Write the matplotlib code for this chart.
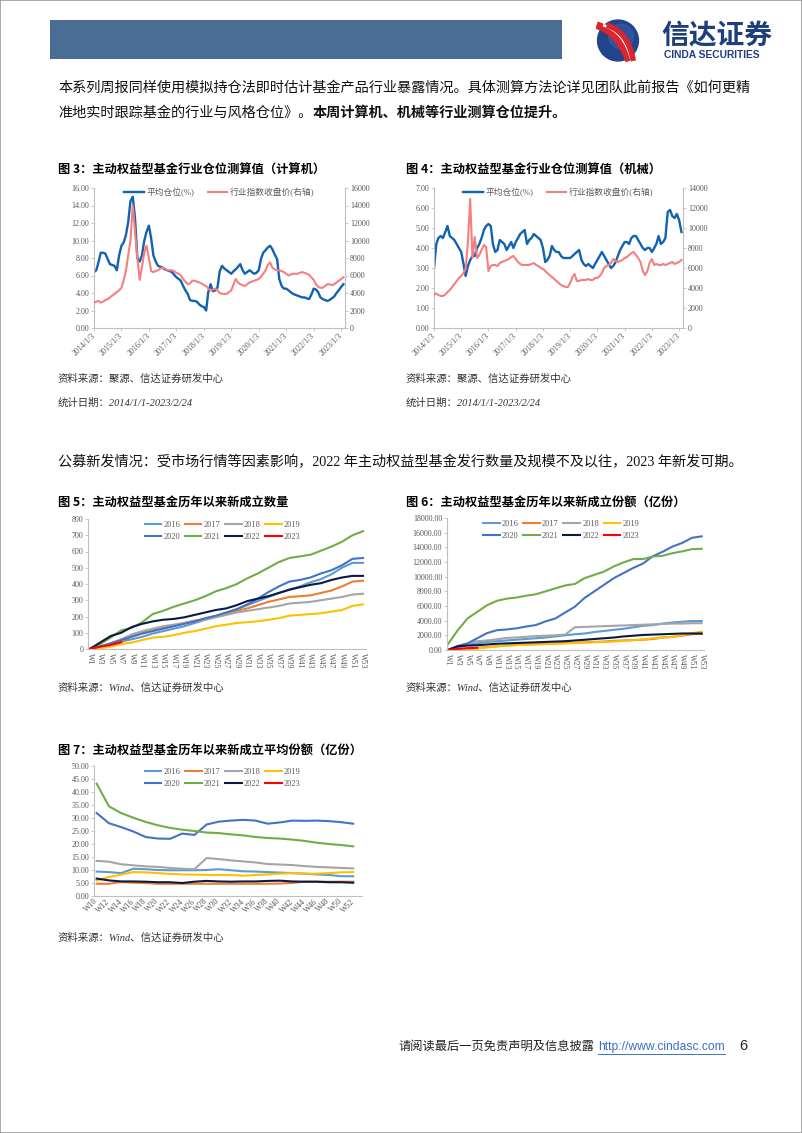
import numpy as np
import pandas as pd
import matplotlib
matplotlib.use("Agg")
import matplotlib.pyplot as plt
from matplotlib.patches import Circle, Rectangle, PathPatch
from matplotlib.path import Path
from matplotlib.ticker import MultipleLocator, FormatStrFormatter

plt.rcParams['font.family'] = ['Liberation Serif', 'Noto Sans CJK SC', 'DejaVu Sans']
plt.rcParams['axes.unicode_minus'] = False

W, H = 802, 1133
CJK = ['Noto Sans CJK SC', 'DejaVu Sans']
SERIF_CJK = ['Liberation Serif', 'Noto Sans CJK SC']

# ---------------- data: monthly, 2014/1 .. 2023/2 ----------------
months = pd.date_range("2014-01-01", periods=110, freq="MS") + pd.Timedelta(days=2)
year_ticks = [pd.Timestamp(f"{y}-01-03") for y in range(2014, 2024)]
year_labels = [f"{y}/1/3" for y in range(2014, 2024)]

# fig 3: computer
pos_jsj = [
    6.4, 6.6, 7.5, 8.6, 8.6, 8.5, 7.9, 7.3, 7.2, 7.1, 6.6, 8.3,
    9.4, 9.8, 10.6, 12.1, 14.5, 15.0, 12.5, 8.0, 7.6, 8.3, 10.0, 11.0,
    11.7, 10.2, 8.3, 7.6, 7.1, 7.0, 6.9, 6.7, 6.6, 6.5, 6.4, 6.1,
    5.8, 5.6, 5.4, 4.8, 4.3, 3.9, 3.2, 3.1, 3.1, 3.0, 2.7, 2.5,
    2.4, 2.0, 4.1, 5.0, 4.2, 4.3, 4.6, 6.5, 7.1, 6.8, 6.6, 6.4,
    6.2, 6.5, 6.7, 7.0, 7.3, 6.6, 6.2, 6.4, 6.6, 6.4, 6.2, 6.3,
    6.6, 7.9, 8.6, 8.9, 9.2, 9.4, 9.0, 8.4, 7.9, 5.6, 4.8, 4.5,
    4.5, 4.3, 4.1, 3.9, 3.8, 3.7, 3.6, 3.5, 3.5, 3.4, 3.3, 3.8,
    4.5, 4.4, 4.1, 3.5, 3.3, 3.2, 3.1, 3.2, 3.4, 3.6, 4.0, 4.3,
    4.7, 5.0]
idx_jsj = [
    2900, 3000, 3100, 2900, 3000, 3200, 3300, 3500, 3700, 3900, 4100, 4300,
    4600, 5500, 6500, 8300, 10000, 14000, 11000, 8000, 5500, 7000, 8600, 9400,
    8000, 6500, 6400, 6500, 6600, 6800, 6900, 6800, 6600, 6600, 6600, 6500,
    6300, 6200, 6000, 5600, 5300, 5000, 5100, 5400, 5400, 5300, 5200, 5100,
    4900, 4800, 4500, 4300, 4400, 4500, 4300, 4000, 3900, 3900, 3900, 4100,
    4300, 5000, 5600, 5200, 5000, 4900, 4800, 5000, 5200, 5300, 5400, 5500,
    5600, 5900, 6200, 6600, 7200, 7500, 6900, 6700, 6600, 6600, 6500, 6400,
    6200, 6000, 6100, 6200, 6200, 6200, 6300, 6400, 6300, 6200, 6100, 5800,
    5500, 5000, 4700, 4600, 4600, 4800, 5000, 5000, 4900, 5000, 5200, 5400,
    5600, 5800]

# fig 4: machinery
pos_jx = [
    3.0, 4.2, 4.5, 4.6, 4.5, 4.8, 5.1, 4.6, 4.5, 4.4, 4.2, 4.0,
    3.8, 3.2, 2.6, 3.1, 3.4, 3.6, 3.6, 4.0, 4.2, 4.5, 4.9, 5.1,
    5.2, 5.1, 4.2, 3.8, 3.9, 4.4, 4.3, 4.2, 3.9, 4.1, 4.3, 4.0,
    4.3, 4.5, 4.7, 4.8, 4.9, 4.2, 4.4, 4.5, 4.7, 4.6, 4.5, 4.4,
    4.0, 3.3, 3.4, 3.6, 4.1, 3.9, 3.8, 3.8, 3.6, 3.5, 3.5, 3.5,
    3.5, 3.6, 3.7, 3.8, 3.9, 3.4, 3.2, 3.1, 3.2, 3.1, 3.0, 3.2,
    3.4, 3.6, 3.8, 3.6, 3.4, 3.2, 3.0, 3.1, 3.3, 3.6, 3.9, 4.1,
    4.3, 4.3, 4.2, 4.5, 4.6, 4.6, 4.4, 4.2, 4.0, 3.9, 4.0, 4.0,
    3.8, 4.0, 4.2, 4.6, 4.2, 4.3, 4.5, 5.8, 5.9, 5.6, 5.5, 5.7,
    5.4, 4.8]
idx_jx = [
    3300, 3450, 3300, 3200, 3200, 3350, 3600, 3800, 4100, 4400, 4700, 5000,
    5200, 5500, 5900, 8600, 12900, 7000, 9100, 7000, 7300, 7800, 8300, 8100,
    5700, 6200, 6300, 6300, 6200, 6500, 6600, 6700, 6800, 6900, 7100, 7200,
    6900, 6600, 6400, 6300, 6300, 6300, 6300, 6400, 6500, 6300, 6200, 6000,
    5900, 5700, 5500, 5300, 5100, 4900, 4700, 4500, 4300, 4200, 4100, 4100,
    4500, 5100, 5400, 4700, 4700, 4800, 4800, 4800, 4900, 4800, 4800, 5000,
    5000, 5200, 5500, 6000, 6200, 6300, 6500, 6900, 6700, 6600, 6700, 6800,
    7000, 7100, 7300, 7500, 7600, 7300, 7000, 6600, 5700, 5300, 5700, 6500,
    6900, 6300, 6400, 6300, 6300, 6400, 6300, 6400, 6500, 6600, 6400, 6500,
    6600, 6800]

# ---------------- data: weekly cumulative (odd weeks W1..W53) ----------------
years = ['2016', '2017', '2018', '2019', '2020', '2021', '2022', '2023']
year_colors = ['#5B9BD5', '#ED7D31', '#A5A5A5', '#FFC000',
               '#4472C4', '#70AD47', '#0B1A45', '#FF0000']
odd_weeks = list(range(1, 54, 2))

count_by_year = {
    '2016': [0, 10, 25, 45, 60, 75, 95, 110, 125, 140, 160, 180, 200, 220,
             245, 270, 295, 320, 345, 365, 385, 410, 430, 460, 500, 530, 530],
    '2017': [0, 15, 30, 45, 80, 100, 115, 130, 145, 160, 175, 185, 200, 215,
             235, 250, 270, 290, 305, 320, 325, 330, 345, 360, 385, 415, 420],
    '2018': [0, 15, 35, 60, 90, 110, 125, 140, 150, 160, 170, 180, 195, 210,
             225, 235, 245, 255, 265, 280, 285, 290, 300, 310, 320, 335, 340],
    '2019': [0, 5, 15, 30, 40, 55, 70, 75, 85, 100, 110, 125, 140, 150,
             160, 165, 170, 180, 190, 205, 210, 215, 220, 230, 240, 265, 275],
    '2020': [0, 15, 35, 55, 75, 95, 110, 125, 140, 155, 170, 190, 205, 225,
             245, 275, 310, 350, 385, 415, 425, 440, 465, 485, 515, 555, 560],
    '2021': [0, 30, 70, 115, 130, 165, 215, 235, 260, 280, 300, 325, 355, 375,
             400, 435, 465, 500, 535, 560, 570, 580, 605, 630, 660, 700, 725],
    '2022': [0, 40, 80, 100, 135, 155, 170, 180, 185, 195, 210, 225, 240, 250,
             270, 295, 310, 325, 345, 365, 380, 395, 405, 425, 440, 450, 450],
    '2023': [0, 15, 25, 42],
}

share_by_year = {
    '2016': [0, 350, 700, 900, 1100, 1200, 1300, 1400, 1500, 1600, 1700, 1850, 2000, 2150,
             2250, 2450, 2600, 2750, 2900, 3100, 3300, 3400, 3600, 3750, 3850, 3950, 3950],
    '2017': [0, 100, 200, 300, 400, 500, 600, 700, 750, 800, 850, 900, 950, 1000,
             1050, 1100, 1150, 1250, 1300, 1350, 1400, 1500, 1700, 1800, 1950, 2150, 2200],
    '2018': [0, 500, 900, 1200, 1300, 1450, 1650, 1700, 1800, 1900, 1950, 2000, 2100, 3100,
             3150, 3200, 3250, 3300, 3350, 3400, 3450, 3500, 3550, 3600, 3600, 3650, 3650],
    '2019': [0, 50, 100, 200, 350, 500, 600, 650, 700, 750, 800, 850, 900, 950,
             1000, 1050, 1100, 1150, 1250, 1350, 1450, 1600, 1700, 1800, 2000, 2300, 2500],
    '2020': [0, 550, 900, 1600, 2300, 2700, 2800, 2950, 3200, 3400, 3900, 4300, 5100, 5900,
             7100, 8000, 8900, 9800, 10500, 11200, 11800, 12800, 13400, 14100, 14600, 15300, 15500],
    '2021': [800, 2700, 4300, 5200, 6100, 6700, 7000, 7150, 7400, 7600, 8000, 8400, 8800, 9000,
             9800, 10250, 10700, 11400, 11950, 12400, 12400, 12750, 12850, 13200, 13450, 13750, 13800],
    '2022': [0, 500, 600, 650, 750, 850, 900, 950, 1000, 1050, 1100, 1150, 1200, 1300,
             1400, 1500, 1600, 1700, 1850, 1950, 2050, 2100, 2150, 2200, 2250, 2250, 2250],
    '2023': [0, 150, 250, 300],
}

# fig 7: average share, even weeks W10..W52
even_weeks = list(range(10, 53, 2))
avg_by_year = {
    '2016': [9.4, 9.2, 8.8, 10.5, 10.3, 10.0, 9.9, 9.9, 9.9, 10.0, 10.3,
             9.9, 9.5, 9.4, 9.2, 9.0, 8.8, 8.6, 8.3, 8.1, 7.6, 7.6],
    '2017': [4.7, 4.7, 5.4, 5.1, 5.0, 4.7, 4.7, 4.7, 4.7, 4.7, 4.7,
             4.7, 4.7, 4.7, 4.7, 4.8, 5.0, 5.5, 5.5, 5.5, 5.5, 5.5],
    '2018': [13.5, 13.2, 12.2, 11.8, 11.4, 11.2, 10.8, 10.5, 10.3, 14.6, 14.2,
             13.7, 13.3, 12.9, 12.3, 12.1, 11.9, 11.5, 11.2, 11.0, 10.8, 10.6],
    '2019': [6.0, 7.3, 8.2, 9.2, 9.1, 8.8, 8.5, 8.3, 8.2, 8.1, 8.1,
             8.1, 7.8, 8.1, 8.3, 8.6, 8.8, 8.6, 8.6, 8.8, 9.1, 9.2],
    '2020': [31.9, 28.0, 26.5, 24.8, 22.7, 22.1, 22.0, 24.0, 23.5, 27.5, 28.6,
             29.0, 29.3, 29.0, 27.8, 28.3, 29.0, 28.9, 29.0, 28.8, 28.4, 27.8],
    '2021': [43.2, 34.5, 31.9, 30.1, 28.5, 27.2, 26.2, 25.5, 25.0, 24.4, 24.2,
             23.7, 23.3, 22.7, 22.3, 22.1, 21.7, 21.2, 20.5, 20.0, 19.6, 19.1],
    '2022': [6.7, 6.0, 5.6, 5.6, 5.5, 5.3, 5.3, 5.0, 5.5, 5.8, 5.6,
             5.5, 5.6, 5.6, 5.8, 5.9, 5.6, 5.5, 5.5, 5.3, 5.3, 5.1],
    '2023': [],
}

BLUE = '#1262B2'
PINK = '#F47F7F'
GRAY = '#595959'
SPINE = '#BFBFBF'

fig = plt.figure(figsize=(W / 100, H / 100), dpi=100)


def add_ax(l, t, r, b):
    return fig.add_axes([l / W, 1 - b / H, (r - l) / W, (b - t) / H])


def put(x, y, s, **kw):
    kw.setdefault('va', 'center')
    return fig.text(x / W, 1 - y / H, s, **kw)


def style(ax, sides=('left', 'bottom')):
    for k, sp in ax.spines.items():
        sp.set_visible(k in sides)
        sp.set_color(SPINE)
        sp.set_linewidth(0.8)
    ax.tick_params(labelsize=5.8, colors=GRAY, length=2, width=0.6, pad=1.5)
    ax.tick_params(color=SPINE)
    ax.patch.set_alpha(0)


# ---------------- page decoration ----------------
fig.add_artist(Rectangle((0, 0), 1, 1, transform=fig.transFigure, fill=False,
                         edgecolor='#9A9A9A', lw=1.2))
fig.add_artist(Rectangle((50 / W, 1 - 59 / H), 512 / W, 39 / H, transform=fig.transFigure,
                         facecolor='#4A6D95', edgecolor='none'))

lg = add_ax(595, 18, 641, 63)
lg.set_xlim(-1.1, 1.1)
lg.set_ylim(-1.1, 1.1)
lg.set_aspect('equal')
lg.axis('off')
lg.add_patch(Circle((0, 0), 1.0, color='#23448A'))
lg.add_patch(Circle((0.15, 0.2), 0.6, color='#3A62AE', alpha=0.5))
for off, col, w in [(0.0, '#D7262E', 5.5), (0.32, '#FFFFFF', 2.0), (0.5, '#D7262E', 4.0)]:
    verts = [(-1.05 + off, 0.75), (0.0 + off, 0.45), (0.55 + off * 0.4, -1.0)]
    lg.add_patch(PathPatch(Path(verts, [Path.MOVETO, Path.CURVE3, Path.CURVE3]),
                           fill=False, edgecolor=col, lw=w, capstyle='butt'))
put(661, 36, '信达证券', fontsize=20, weight='bold', color='#1F3E7C', family=CJK)
put(664, 55, 'CINDA SECURITIES', fontsize=7.4, weight='bold', color='#1F3E7C',
    family=['Liberation Sans'])

# ---------------- body text ----------------
BODY = 10.2
put(58, 88, '本系列周报同样使用模拟持仓法即时估计基金产品行业暴露情况。具体测算方法论详见团队此前报告《如何更精',
    fontsize=BODY, family=SERIF_CJK, color='#111111')
renderer = fig.canvas.get_renderer()
t = put(58, 113, '准地实时跟踪基金的行业与风格仓位》。', fontsize=BODY, family=SERIF_CJK, color='#111111')
bb = t.get_window_extent(renderer=renderer)
put(bb.x1, 113, '本周计算机、机械等行业测算仓位提升。', fontsize=BODY, weight='bold',
    family=CJK, color='#111111')
put(58, 462, '公募新发情况：受市场行情等因素影响，2022 年主动权益型基金发行数量及规模不及以往，2023 年新发可期。',
    fontsize=BODY, family=SERIF_CJK, color='#111111')

TITLE = 8.8
put(58, 170, '图 3：主动权益型基金行业仓位测算值（计算机）', fontsize=TITLE, weight='bold', family=CJK)
put(406, 170, '图 4：主动权益型基金行业仓位测算值（机械）', fontsize=TITLE, weight='bold', family=CJK)
put(58, 502, '图 5：主动权益型基金历年以来新成立数量', fontsize=TITLE, weight='bold', family=CJK)
put(406, 502, '图 6：主动权益型基金历年以来新成立份额（亿份）', fontsize=TITLE, weight='bold', family=CJK)
put(58, 750, '图 7：主动权益型基金历年以来新成立平均份额（亿份）', fontsize=TITLE, weight='bold', family=CJK)

SRC = dict(fontsize=7.5, style='italic', family=SERIF_CJK, color='#333333')
put(58, 379, '资料来源：聚源、信达证券研发中心', **SRC)
put(58, 403, '统计日期：2014/1/1-2023/2/24', **SRC)
put(406, 379, '资料来源：聚源、信达证券研发中心', **SRC)
put(406, 403, '统计日期：2014/1/1-2023/2/24', **SRC)
put(58, 688, '资料来源：Wind、信达证券研发中心', **SRC)
put(406, 688, '资料来源：Wind、信达证券研发中心', **SRC)
put(58, 938, '资料来源：Wind、信达证券研发中心', **SRC)

# footer
put(398, 1047, '请阅读最后一页免责声明及信息披露', fontsize=8.8, family=SERIF_CJK, color='#222222')
u = put(598, 1047, 'http://www.cindasc.com', fontsize=8.7, family=['Liberation Sans'], color='#3A6FC8')
ub = u.get_window_extent(renderer=renderer)
fig.add_artist(plt.Line2D([ub.x0 / W, ub.x1 / W], [(ub.y0 - 0.5) / H] * 2,
                          transform=fig.transFigure, color='#3A6FC8', lw=0.7))
put(739, 1046, '6', fontsize=10.5, family=['Liberation Sans'], color='#222222')


# ---------------- fig 3 / fig 4 ----------------
def position_chart(box, pos, idx, ymax, step, rmax, rstep):
    ax = add_ax(*box)
    axr = ax.twinx()
    l1, = ax.plot(months, pos, color=BLUE, lw=1.7)
    l2, = axr.plot(months, idx, color=PINK, lw=1.5)
    ax.set_ylim(0, ymax)
    ax.yaxis.set_major_locator(MultipleLocator(step))
    ax.yaxis.set_major_formatter(FormatStrFormatter('%.2f'))
    axr.set_ylim(0, rmax)
    axr.yaxis.set_major_locator(MultipleLocator(rstep))
    axr.yaxis.set_major_formatter(FormatStrFormatter('%d'))
    ax.set_xlim(pd.Timestamp('2014-01-03'), pd.Timestamp('2023-02-24'))
    ax.set_xticks(year_ticks)
    ax.set_xticklabels(year_labels, rotation=45, ha='right', va='center', rotation_mode='anchor')
    style(ax, ('left', 'bottom'))
    style(axr, ('right',))
    ax.tick_params(axis='x', pad=3)
    axr.legend([l1, l2], ['平均仓位(%)', '行业指数收盘价(右轴)'], loc='upper center',
               bbox_to_anchor=(0.5, 1.06), ncol=2, frameon=False, fontsize=6.3,
               handlelength=2.2, handletextpad=0.3, columnspacing=1.6, labelcolor=GRAY)
    return ax


position_chart((94, 188, 345, 328), pos_jsj, idx_jsj, 16, 2, 16000, 2000)
position_chart((434, 188, 683, 328), pos_jx, idx_jx, 7, 1, 14000, 2000)


# ---------------- fig 5 / 6 / 7 ----------------
def weekly_chart(box, data, weeks, xlim, ymax, step, fmt, legend_x, ticks, rot):
    ax = add_ax(*box)
    handles = {}
    for yr, col in zip(years, year_colors):
        vals = data[yr]
        h, = ax.plot(weeks[:len(vals)], vals, color=col, lw=1.5, label=yr)
        handles[yr] = h
    order = ['2016', '2020', '2017', '2021', '2018', '2022', '2019', '2023']
    ax.legend([handles[k] for k in order], order, loc='upper center',
              bbox_to_anchor=(legend_x, 1.04), ncol=4, frameon=False, fontsize=6,
              handlelength=2.0, handletextpad=0.25, columnspacing=0.55,
              labelspacing=0.45, labelcolor=GRAY)
    ax.set_xlim(*xlim)
    ax.set_ylim(0, ymax)
    ax.yaxis.set_major_locator(MultipleLocator(step))
    ax.yaxis.set_major_formatter(FormatStrFormatter(fmt))
    ax.set_xticks(ticks)
    if rot == 270:
        ax.set_xticklabels([f'W{w}' for w in ticks], rotation=270, ha='center', va='top',
                           fontsize=5.4)
    else:
        ax.set_xticklabels([f'W{w}' for w in ticks], rotation=45, ha='right', va='center',
                           rotation_mode='anchor')
    style(ax)
    ax.tick_params(axis='x', length=0, pad=3)
    return ax


weekly_chart((88, 519, 366, 649), count_by_year, odd_weeks, (0.68, 53.57), 800, 100, '%d',
             0.484, odd_weeks, 270)
weekly_chart((447, 518, 704, 650), share_by_year, odd_weeks, (0.8, 53.47), 18000, 2000, '%.2f',
             0.444, odd_weeks, 270)
weekly_chart((94, 766, 362, 896), avg_by_year, even_weeks, (9.56, 53.44), 50, 5, '%.2f',
             0.48, even_weeks, 45)

fig.savefig('out.png', dpi=100)
